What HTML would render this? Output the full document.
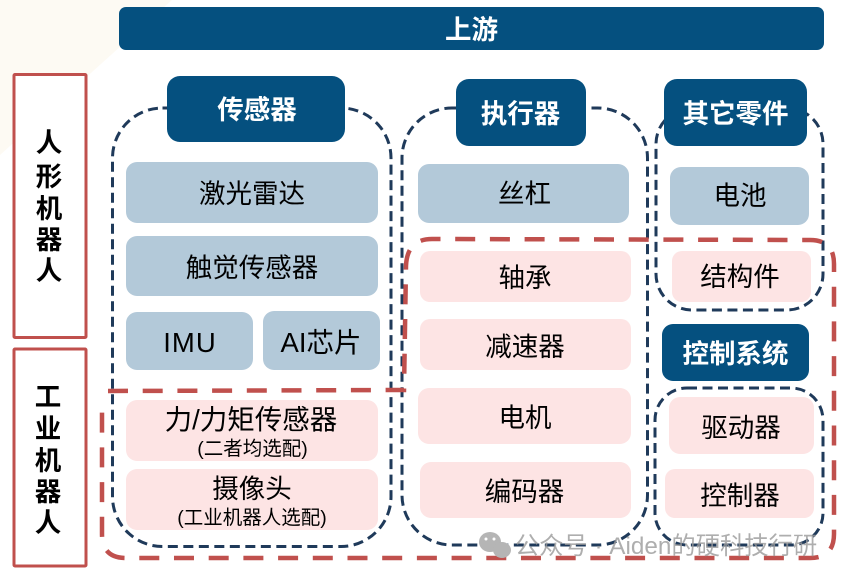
<!DOCTYPE html>
<html lang="zh">
<head>
<meta charset="utf-8">
<style>
html,body{margin:0;padding:0;background:#fff;width:844px;height:579px;overflow:hidden}
svg{display:block}
text{font-family:"Liberation Sans","Noto Sans CJK SC",sans-serif;text-anchor:middle;fill:#000}
.h{fill:#fff;font-weight:700;font-size:26.5px}
.t{font-size:26.5px}
.s{font-size:19.5px}
.v{font-weight:700;font-size:26.5px}
</style>
</head>
<body>
<svg width="844" height="579" viewBox="0 0 844 579" xmlns="http://www.w3.org/2000/svg">
<polygon points="0,0 172,0 0,155" fill="#fdfaf3"/>
<rect x="119" y="7" width="705" height="43" rx="7" fill="#05507f"/>
<text class="h" x="471.500" y="39">上游</text>

<rect x="14" y="74.500" width="72" height="263" rx="1" fill="#fff" stroke="#c0504d" stroke-width="3"/>
<rect x="14" y="349" width="72" height="217" rx="1" fill="#fff" stroke="#c0504d" stroke-width="3"/>
<text class="v" x="49" y="152">人</text>
<text class="v" x="49" y="186">形</text>
<text class="v" x="49" y="218">机</text>
<text class="v" x="49" y="249">器</text>
<text class="v" x="49" y="280">人</text>
<text class="v" x="48" y="406">工</text>
<text class="v" x="48" y="438">业</text>
<text class="v" x="48" y="470">机</text>
<text class="v" x="48" y="501">器</text>
<text class="v" x="48" y="532">人</text>

<g fill="#b3c9d9">
<rect x="126" y="162" width="252" height="61" rx="11"/>
<rect x="126" y="236" width="252" height="60" rx="11"/>
<rect x="126" y="312" width="127" height="58" rx="11"/>
<rect x="263" y="311" width="117" height="59" rx="11"/>
<rect x="418" y="164" width="211" height="59" rx="11"/>
<rect x="670" y="167" width="139" height="58" rx="11"/>
</g>
<g fill="#fde4e4">
<rect x="126" y="400" width="252" height="61" rx="11"/>
<rect x="126" y="469" width="252" height="61" rx="11"/>
<rect x="420" y="251" width="211" height="51" rx="10"/>
<rect x="420" y="319" width="211" height="51" rx="10"/>
<rect x="418" y="388" width="213" height="56" rx="11"/>
<rect x="420" y="462" width="211" height="56" rx="11"/>
<rect x="672" y="251" width="139" height="51" rx="10"/>
<rect x="669" y="397" width="145" height="57" rx="11"/>
<rect x="665" y="469" width="149" height="49" rx="10"/>
</g>

<g fill="none" stroke="#1f3a5a" stroke-width="3" stroke-dasharray="10 5.500">
<rect x="112.500" y="108" width="278.500" height="438.500" rx="50"/>
<rect x="402" y="108" width="245.500" height="437" rx="50"/>
<rect x="656" y="108" width="167" height="202" rx="36"/>
<rect x="655" y="388" width="168" height="157" rx="32"/>
</g>

<path d="M108 391 L404 390 L406 266 Q407 239 432 239 L810 240 Q834 240 834 264 L834 534 Q834 558 810 558 L126 558 Q102 558 102 534 L102 406" fill="none" stroke="#c0504d" stroke-width="4.500" stroke-dasharray="20 14.700"/>

<rect x="167" y="76" width="178" height="66" rx="13" fill="#05507f"/>
<rect x="456" y="79" width="130" height="67" rx="13" fill="#05507f"/>
<rect x="664" y="79" width="143" height="67" rx="13" fill="#05507f"/>
<rect x="662" y="324" width="147" height="57" rx="11" fill="#05507f"/>
<text class="h" x="257" y="119">传感器</text>
<text class="h" x="520.500" y="123">执行器</text>
<text class="h" x="735.500" y="123">其它零件</text>
<text class="h" x="735.500" y="363">控制系统</text>

<text class="t" x="252" y="203">激光雷达</text>
<text class="t" x="252" y="277">触觉传感器</text>
<text class="t" x="190" y="352" style="font-size:27.500px;letter-spacing:1px">IMU</text>
<text class="t" x="321" y="352" style="font-size:27.500px">AI芯片</text>
<text class="t" x="251" y="429" style="font-size:27.500px">力/力矩传感器</text>
<text class="s" x="252.500" y="455">(二者均选配)</text>
<text class="t" x="252" y="498">摄像头</text>
<text class="s" x="252" y="524">(工业机器人选配)</text>
<text class="t" x="524.500" y="203">丝杠</text>
<text class="t" x="525" y="287">轴承</text>
<text class="t" x="525" y="356">减速器</text>
<text class="t" x="525" y="427">电机</text>
<text class="t" x="524.500" y="501">编码器</text>
<text class="t" x="740" y="205">电池</text>
<text class="t" x="740" y="286">结构件</text>
<text class="t" x="741" y="437">驱动器</text>
<text class="t" x="740" y="505">控制器</text>

<g fill="#b5b5b5">
<ellipse cx="490" cy="542" rx="11" ry="10"/>
<ellipse cx="502" cy="550" rx="9" ry="8"/>
</g>
<circle cx="486" cy="539" r="1.500" fill="#fff"/>
<circle cx="494" cy="539" r="1.500" fill="#fff"/>
<text x="666" y="554" style="font-size:24.300px;fill:#9a9a9a;fill-opacity:.8">公众号 · Aiden的硬科技行研</text>
</svg>
</body>
</html>
